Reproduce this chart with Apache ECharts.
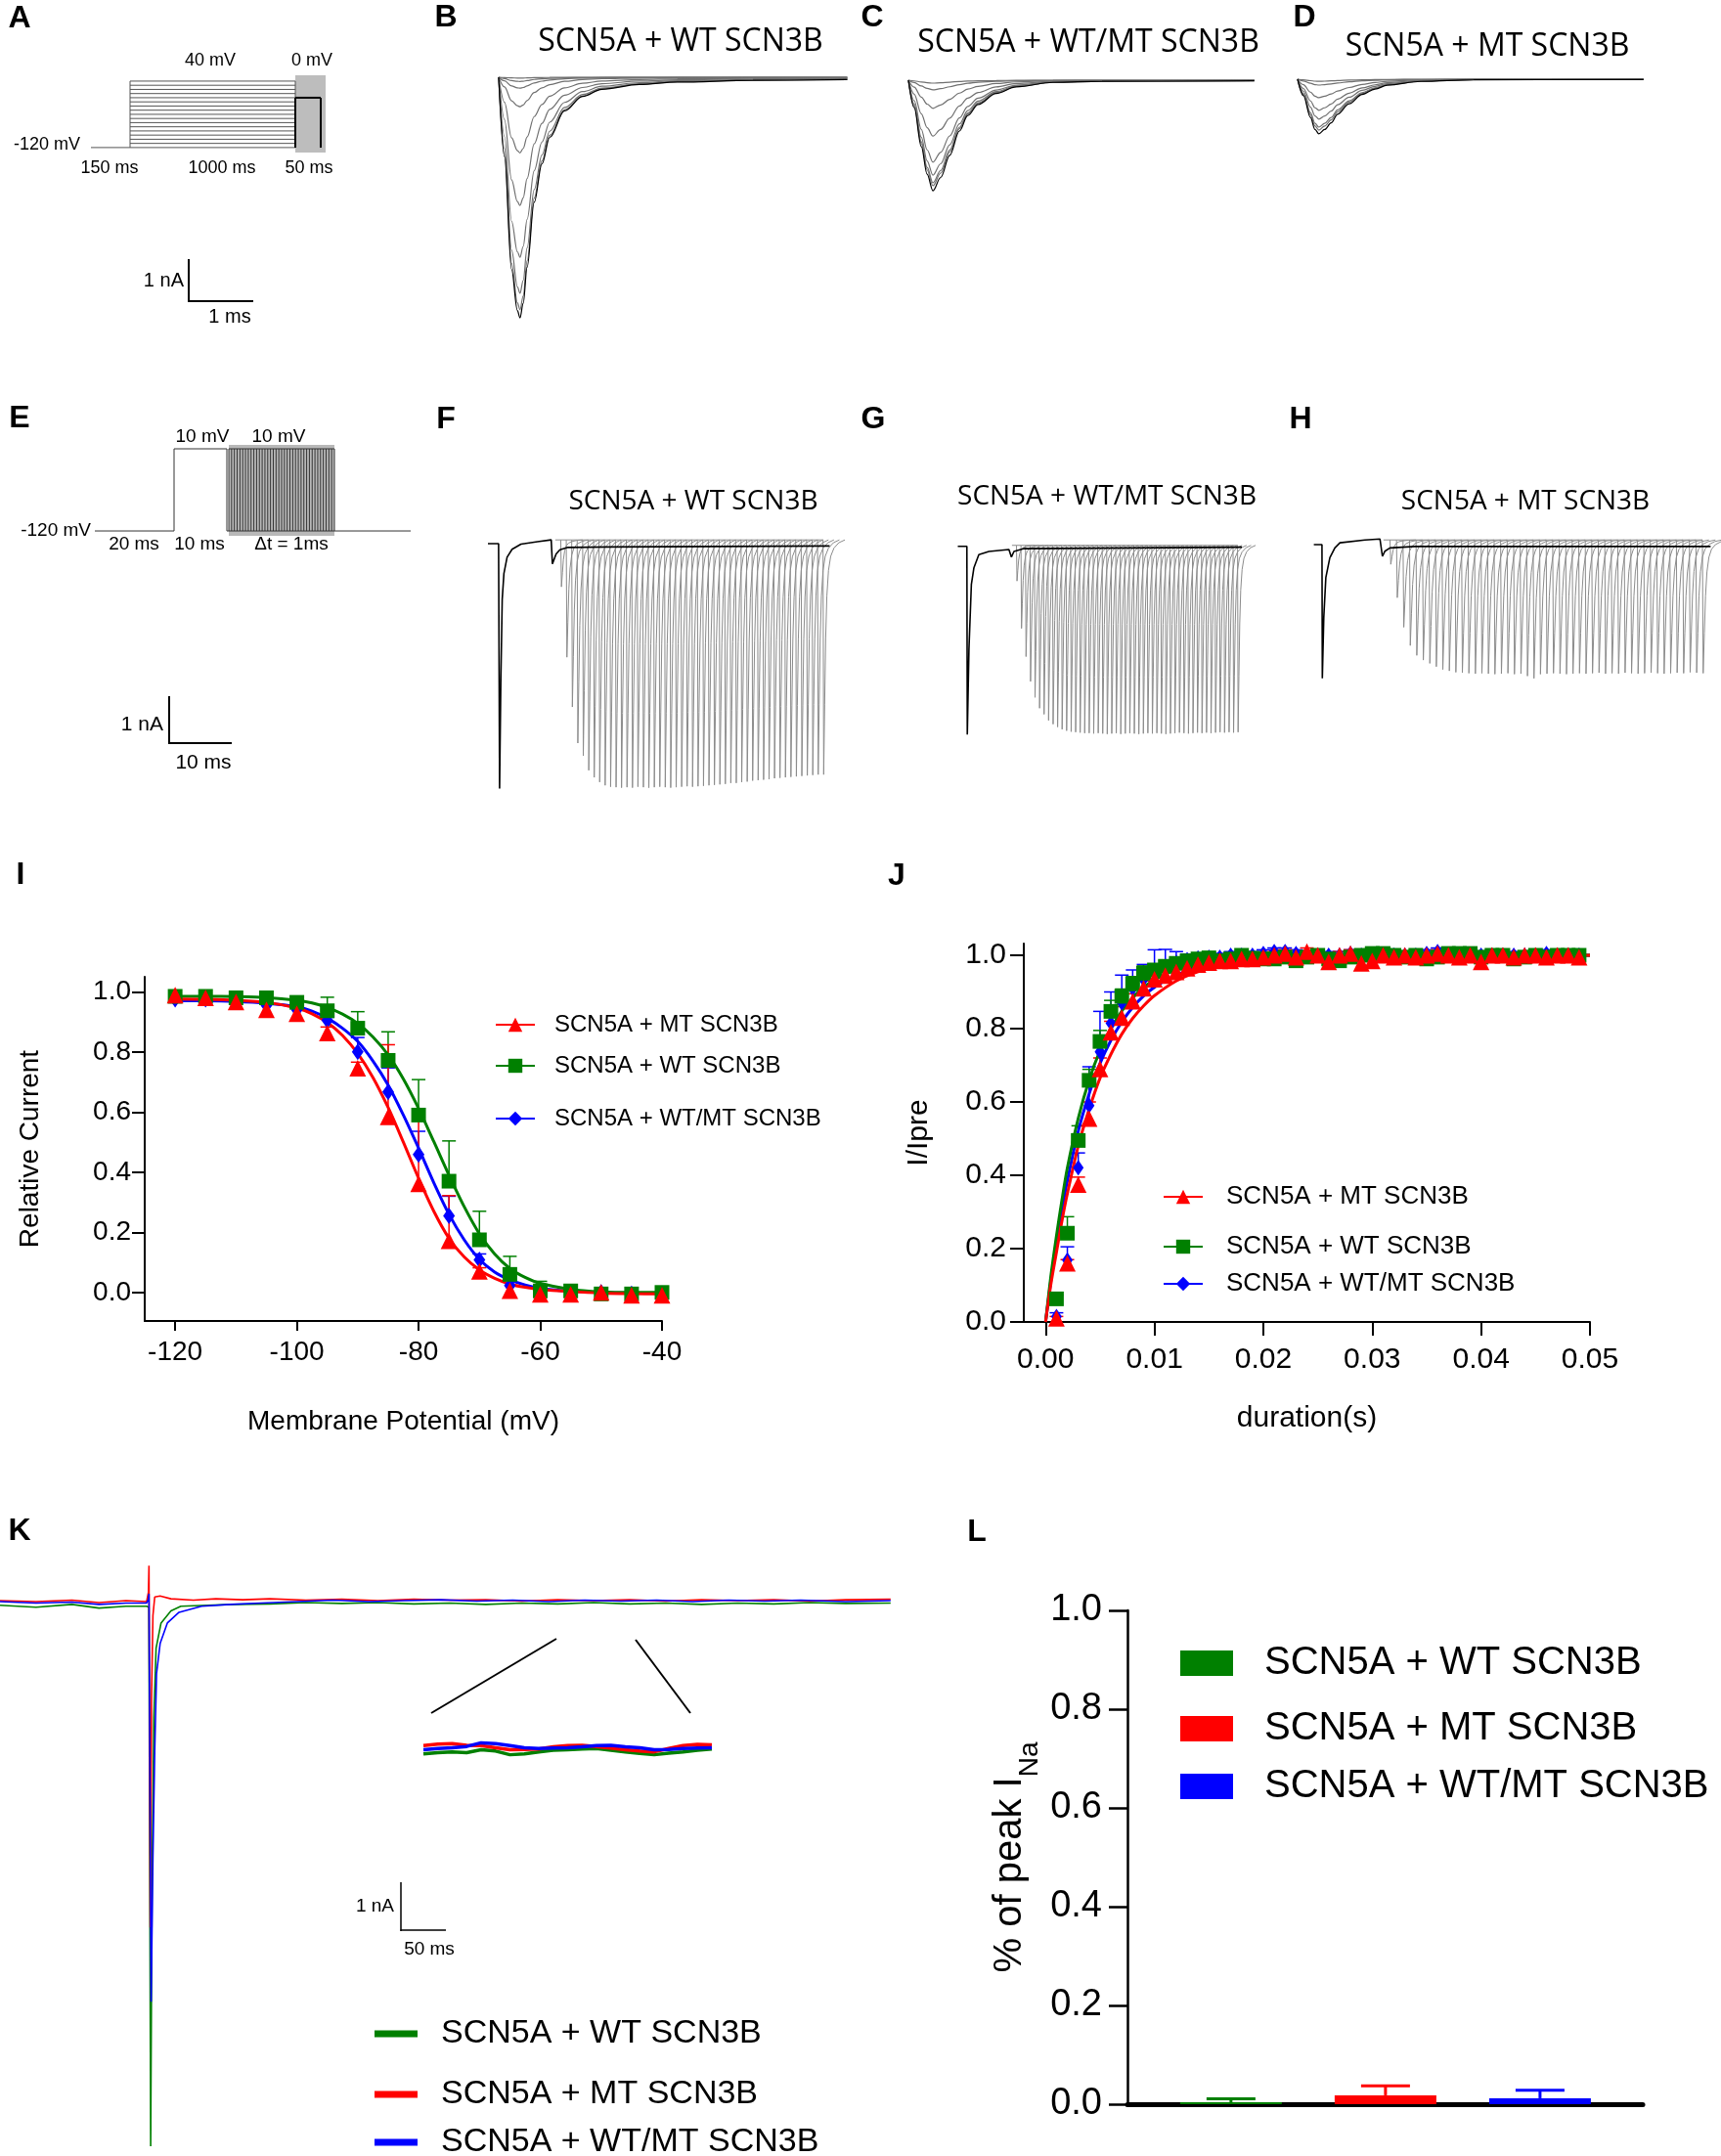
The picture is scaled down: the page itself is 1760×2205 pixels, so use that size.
<!DOCTYPE html>
<html>
<head>
<meta charset="utf-8">
<script src="https://cdn.jsdelivr.net/npm/echarts@6/dist/echarts.min.js"></script>
<style>
html, body { margin: 0; padding: 0; background: #fff; }
#fig { width: 1760px; height: 2205px; }
</style>
</head>
<body>
<div id="fig"></div>
<script>
// ---------------- labels / colours ----------------
var labWT = 'SCN5A + WT SCN3B';
var labMT = 'SCN5A + MT SCN3B';
var labWM = 'SCN5A + WT/MT SCN3B';
var cWT = '#008000', cMT = '#ff0000', cWM = '#0000ff';
var FONT = '"Liberation Sans", Arial, sans-serif';
var TFONT = '"Open Sans", sans-serif';

// ---------------- A / E : voltage protocols (schematic units) ----------------
var protoALevels = [-120, -110, -100, -90, -80, -70, -60, -50, -40, -30, -20, -10, 0, 10, 20, 30, 40];
var protoATimes = [0, 40, 209, 235, 240];   // hold, step on, test on, test off, box end
var protoATest = 0;
var protoETimes = [0, 81, 135, 137, 245, 323]; // hold, P1 on, P1 off, train on, train off, end
var protoELevels = [-120, 10];
var protoETrain = 38;

// ---------------- B-D : sweeps (ms, fraction of peak) and peaks (nA) ----------------
var bShape = [[0,0],[0.09,0.33],[0.2,0.8],[0.29,0.97],[0.33,1],[0.38,0.94],[0.44,0.79],[0.55,0.52],[0.67,0.36],[0.79,0.25],[1.02,0.14],[1.3,0.08],[1.6,0.05],[2.18,0.03],[2.77,0.02],[3.94,0.013],[5.4,0.01]];
var bPeaks = [0.02, 0.1, 0.26, 0.7, 1.8, 3.05, 4.28, 5.14, 5.53, 5.72];
var cShape = [[0,0],[0.09,0.25],[0.2,0.6],[0.29,0.85],[0.38,1],[0.5,0.88],[0.64,0.68],[0.79,0.46],[0.92,0.32],[1.08,0.22],[1.36,0.12],[1.67,0.06],[2.24,0.02],[3.0,0.01],[5.36,0.005]];
var cPeaks = [0.07, 0.23, 0.67, 1.33, 1.95, 2.26, 2.44, 2.51, 2.63];
var dShape = [[0,0],[0.09,0.3],[0.2,0.7],[0.27,0.92],[0.33,1],[0.42,0.92],[0.52,0.8],[0.62,0.64],[0.8,0.45],[1.0,0.28],[1.2,0.18],[1.39,0.11],[1.91,0.04],[2.73,0.01],[5.36,0.005]];
var dPeaks = [0.05, 0.14, 0.44, 0.74, 0.95, 1.14, 1.21, 1.3];

// ---------------- F-H : two-pulse recovery (ms, nA) ----------------
var fBlack = [[0,0],[1.7,0],[1.86,-5.22],[2.06,-2.93],[2.28,-1.19],[2.55,-0.64],[3.06,-0.29],[3.86,-0.12],[5.28,-0.01],[7.91,0.04],[10.11,0.08],[10.3,-0.43],[10.9,-0.22],[11.5,-0.13],[12.8,-0.08],[19.6,-0.07],[54.6,-0.05]];
var gBlack = [[0,0],[1.0,0],[1.45,0],[1.52,-4.01],[1.78,-2.2],[2.17,-0.81],[2.57,-0.46],[3.36,-0.18],[4.97,-0.11],[8.17,-0.07],[8.57,-0.23],[8.97,-0.11],[10.58,-0.05],[45.4,-0.02]];
var hBlack = [[0,0],[0.8,0],[1.3,0],[1.36,-2.85],[1.59,-1.55],[1.92,-0.7],[2.56,-0.28],[3.36,-0.07],[4.17,0.04],[8.17,0.1],[10.57,0.12],[10.96,-0.25],[11.36,-0.14],[12.16,-0.07],[16.17,-0.04],[63.4,-0.04]];
var fPeaks = [0.92,2.42,3.48,4.25,4.52,4.83,4.98,5.08,5.15,5.18,5.19,5.2,5.19,5.2,5.18,5.19,5.2,5.19,5.18,5.19,5.2,5.19,5.18,5.17,5.18,5.17,5.16,5.15,5.14,5.13,5.12,5.1,5.1,5.08,5.07,5.05,5.04,5.03,5.02,5.0,4.99,4.98,4.97,4.96,4.95,4.94,4.93,4.92,4.92];
var gPeaks = [0.74,1.75,2.35,2.88,3.22,3.45,3.58,3.71,3.79,3.85,3.9,3.93,3.95,3.96,3.97,3.98,3.98,3.99,3.98,3.99,4.0,3.99,3.98,4.0,3.99,3.98,3.99,4.0,3.99,3.98,3.99,3.98,3.99,4.0,3.99,3.98,3.97,3.98,3.99,3.98,3.97,3.98,3.97,3.98,3.97,3.96,3.97,3.96,3.97,3.96];
var hPeaks = [0.42,1.13,1.76,2.15,2.36,2.46,2.53,2.6,2.66,2.69,2.72,2.73,2.74,2.75,2.74,2.75,2.76,2.75,2.74,2.76,2.75,2.8,2.85,2.76,2.75,2.74,2.75,2.76,2.75,2.74,2.75,2.74,2.73,2.75,2.74,2.75,2.73,2.74,2.75,2.74,2.73,2.74,2.75,2.74,2.73,2.74,2.72,2.73,2.74];
var fTest = {start: 11.64, step: 0.873, base: 0.08};
var gTest = {start: 9.375, step: 0.721, base: 0.02};
var hTest = {start: 12.17, step: 1.04, base: 0.1};
// spike shape (time in units of one step, fraction of peak)
var spikeShape = [[0,0],[0.12,1],[0.3,0.7],[0.48,0.42],[0.7,0.24],[1.0,0.13],[1.4,0.07],[2.0,0.035],[2.9,0.012],[4.0,0]];

// ---------------- I : steady-state inactivation ----------------
var iX = [-120,-115,-110,-105,-100,-95,-90,-85,-80,-75,-70,-65,-60,-55,-50,-45,-40];
var iMT = [0.989,0.98,0.966,0.94,0.927,0.863,0.746,0.584,0.361,0.172,0.07,0.006,-0.006,-0.006,0.0,-0.01,-0.01];
var iWT = [0.985,0.985,0.98,0.98,0.965,0.937,0.879,0.772,0.59,0.37,0.175,0.06,0.005,0.005,-0.005,-0.005,0.0];
var iWM = [0.975,0.975,0.97,0.955,0.94,0.905,0.80,0.667,0.459,0.255,0.108,0.023,0.0,0.0,0.0,-0.005,-0.005];
var iMTerr = [0,0,0,0,0,0.02,0.02,0.24,0.22,0.15,0.012,0,0,0,0,0,0];
var iWTerr = [0,0,0,0,0.02,0.045,0.055,0.095,0.118,0.134,0.095,0.06,0.032,0,0,0,0];
var iWMerr = [0,0,0,0,0,0.01,0.048,0.08,0.077,0.065,0.02,0,0,0,0,0,0];
// fitted curves, read every 2.5 mV
var iFitX = [-120,-115,-110,-105,-100,-97.5,-95,-92.5,-90,-87.5,-85,-82.5,-80,-77.5,-75,-72.5,-70,-67.5,-65,-62.5,-60,-55,-50,-45,-40];
var iMTfit = [0.976,0.975,0.972,0.965,0.946,0.927,0.898,0.855,0.795,0.715,0.615,0.5,0.38,0.27,0.18,0.118,0.075,0.047,0.028,0.017,0.01,0.003,-0.002,-0.004,-0.005];
var iWTfit = [0.985,0.985,0.984,0.981,0.972,0.963,0.948,0.926,0.895,0.85,0.79,0.71,0.612,0.502,0.39,0.285,0.195,0.128,0.08,0.05,0.03,0.01,0.002,0.0,0.0];
var iWMfit = [0.97,0.97,0.968,0.962,0.95,0.936,0.912,0.879,0.835,0.77,0.69,0.59,0.48,0.365,0.26,0.175,0.11,0.068,0.042,0.025,0.014,0.004,0.0,-0.002,-0.003];
var iTicksX = [-120,-100,-80,-60,-40];
var iTicksY = [0,0.2,0.4,0.6,0.8,1.0];

// ---------------- J : recovery from inactivation ----------------
var jStep = 0.001;
var jMT = [0.01,0.16,0.375,0.555,0.69,0.79,0.83,0.875,0.91,0.935,0.945,0.955,0.965,0.975,0.98,0.985,0.985,0.99,0.99,0.995,1.0,1.005,0.995,1.01,1.0,0.982,1.0,1.005,0.978,0.985,1.0,0.995,1.0,0.995,1.0,1.005,1.0,0.995,1.0,0.982,1.0,1.0,0.995,1.0,1.0,0.995,1.0,1.0,0.995];
var jWT = [0.063,0.242,0.495,0.659,0.765,0.847,0.888,0.922,0.951,0.96,0.97,0.978,0.985,0.99,0.993,0.985,0.99,1.0,0.992,0.99,0.99,0.995,0.985,0.995,1.0,0.99,0.985,0.995,1.0,1.005,1.005,1.0,0.995,1.0,0.99,0.995,1.005,1.005,1.005,0.995,1.0,1.0,0.99,0.995,1.0,0.995,1.0,1.0,1.0];
var jWM = [0.015,0.169,0.421,0.59,0.737,0.815,0.87,0.91,0.935,0.955,0.97,0.98,0.988,0.993,0.995,0.995,1.0,1.0,1.0,1.005,1.01,1.01,1.005,1.0,1.0,1.0,1.0,1.005,1.0,1.0,1.0,1.0,1.0,1.0,1.005,1.01,1.0,1.0,1.0,1.0,1.0,1.0,1.0,1.0,1.0,1.005,1.0,1.0,1.0];
var jMTerr = [0.005,0.01,0.02,0.045,0.03,0.03,0.03,0.02,0.02,0.015,0.01,0.01,0.01,0.01,0.01,0.01,0.01,0.01,0.01,0.01,0.01,0.01,0.01,0.01,0.01,0.01,0.01,0.01,0.01,0.01,0.01,0.01,0.01,0.01,0.01,0.01,0.01,0.01,0.01,0.01,0.01,0.01,0.01,0.01,0.01,0.01,0.01,0.01,0.01];
var jWTerr = [0.01,0.045,0.04,0.03,0.03,0.03,0.02,0.02,0.02,0.015,0.015,0.012,0.01,0.01,0.01,0.01,0.01,0.01,0.01,0.01,0.01,0.01,0.01,0.01,0.01,0.01,0.01,0.01,0.01,0.01,0.01,0.01,0.01,0.01,0.01,0.01,0.01,0.01,0.01,0.01,0.01,0.01,0.01,0.01,0.01,0.01,0.01,0.01,0.01];
var jWMerr = [0.01,0.036,0.04,0.106,0.11,0.085,0.076,0.05,0.04,0.06,0.046,0.03,0.015,0.012,0.012,0.01,0.01,0.01,0.01,0.01,0.01,0.01,0.01,0.01,0.01,0.01,0.01,0.01,0.01,0.01,0.01,0.01,0.01,0.01,0.01,0.01,0.01,0.01,0.01,0.01,0.01,0.01,0.01,0.01,0.01,0.01,0.01,0.01,0.01];
var jFitX = [0,0.0005,0.001,0.0015,0.002,0.003,0.004,0.005,0.006,0.007,0.008,0.009,0.01,0.012,0.014,0.016,0.018,0.02,0.025,0.03,0.04,0.05];
var jMTfit = [0,0.105,0.19,0.275,0.35,0.48,0.58,0.665,0.73,0.785,0.828,0.862,0.89,0.93,0.955,0.97,0.98,0.987,0.995,0.998,1.0,1.0];
var jWTfit = [0,0.128,0.235,0.332,0.42,0.555,0.66,0.74,0.8,0.848,0.884,0.912,0.933,0.961,0.977,0.987,0.992,0.995,0.999,1.0,1.0,1.0];
var jWMfit = [0,0.116,0.215,0.305,0.385,0.52,0.622,0.705,0.768,0.818,0.858,0.889,0.913,0.946,0.967,0.98,0.988,0.992,0.998,1.0,1.0,1.0];
var jTicksX = [0,0.01,0.02,0.03,0.04,0.05];
var jTicksY = [0,0.2,0.4,0.6,0.8,1.0];

// ---------------- K : late current traces (ms, nA) ----------------
var kWT = [[0,-0.08],[40,-0.12],[80,-0.06],[110,-0.14],[140,-0.1],[163,-0.1],[165.5,-0.12],[167.5,-11.7],[169,-6],[171,-2.5],[173.5,-1.0],[179,-0.46],[190,-0.2],[201,-0.1],[230,-0.08],[260,-0.06],[300,-0.05],[340,-0.02],[380,-0.04],[420,-0.02],[460,-0.05],[500,-0.03],[540,-0.06],[580,-0.03],[620,-0.05],[660,-0.02],[700,-0.05],[740,-0.03],[780,-0.06],[820,-0.03],[860,-0.05],[900,-0.02],[940,-0.04],[990,-0.03]];
var kMT = [[0,0.02],[40,0.0],[80,0.03],[110,-0.02],[140,0.02],[163,0.0],[165,0.2],[165.6,0.77],[167,-7.0],[168.5,-2.0],[170,-0.3],[172,0.1],[178,0.12],[190,0.06],[215,0.03],[240,0.06],[270,0.04],[300,0.06],[340,0.03],[380,0.05],[420,0.02],[460,0.05],[500,0.03],[540,0.04],[580,0.01],[620,0.04],[660,0.02],[700,0.04],[740,0.01],[780,0.04],[820,0.02],[860,0.04],[900,0.01],[940,0.04],[990,0.05]];
var kWM = [[0,0.0],[40,-0.03],[80,-0.01],[110,-0.06],[140,-0.03],[163,-0.03],[165,0.05],[165.6,0.17],[168,-8.6],[170,-5.5],[172,-3.2],[174,-1.55],[178,-0.9],[186,-0.46],[199,-0.23],[224,-0.1],[256,-0.06],[290,-0.03],[330,0.0],[370,0.03],[410,0.0],[450,0.02],[490,0.04],[530,0.01],[570,0.03],[610,0.0],[650,0.03],[690,0.01],[730,0.03],[770,0.0],[810,0.03],[850,0.01],[890,0.03],[940,0.0],[990,0.02]];
var kInsetWT = [-0.15,-0.12,-0.1,-0.12,-0.05,-0.08,-0.17,-0.15,-0.1,-0.06,-0.05,-0.03,-0.02,-0.06,-0.1,-0.14,-0.17,-0.13,-0.1,-0.06,-0.03];
var kInsetMT = [0.05,0.09,0.1,0.06,0.05,0.0,-0.05,-0.04,-0.03,0.02,0.05,0.06,0.03,-0.01,-0.05,-0.08,-0.1,-0.02,0.05,0.08,0.07];
var kInsetWM = [-0.05,-0.02,0.0,0.03,0.12,0.1,0.05,0.0,-0.02,-0.01,0.0,0.02,0.05,0.06,0.02,0.0,-0.05,-0.04,-0.02,-0.01,0.0];

// ---------------- L : late current fraction ----------------
var lVals = [0.004, 0.018, 0.012];
var lErr = [0.007, 0.019, 0.016];
var lTicksY = [0,0.2,0.4,0.6,0.8,1.0];

// =====================================================================
var grids = [], xAxes = [], yAxes = [], series = [], legends = [];

function addHidden(g, xr, yr) {
  g.outerBoundsMode = 'none';
  grids.push(g);
  var gi = grids.length - 1;
  xAxes.push({type: 'value', gridIndex: gi, min: xr[0], max: xr[1], show: false});
  yAxes.push({type: 'value', gridIndex: gi, min: yr[0], max: yr[1], show: false});
  return gi;
}
// trace grid: x0 / base are where t=0 and I=0 sit on the page
function traceGrid(x0, base, tMax, yMin, yMax, pxMs, pxNa) {
  return addHidden({left: x0, top: base - yMax * pxNa, width: tMax * pxMs, height: (yMax - yMin) * pxNa},
    [0, tMax], [yMin, yMax]);
}
function segs(gi, rows, color, width, z) {
  series.push({type: 'custom', xAxisIndex: gi, yAxisIndex: gi, z: z || 3, silent: true, data: rows,
    renderItem: function (p, api) {
      var a = api.coord([api.value(0), api.value(1)]), b = api.coord([api.value(2), api.value(3)]);
      return {type: 'line', shape: {x1: a[0], y1: a[1], x2: b[0], y2: b[1]}, style: {stroke: color, lineWidth: width}};
    }});
}
function box(gi, x0, x1, y0, y1, color) {
  series.push({type: 'custom', xAxisIndex: gi, yAxisIndex: gi, z: 1, silent: true, data: [[x0, y0, x1, y1]],
    renderItem: function (p, api) {
      var a = api.coord([api.value(0), api.value(3)]), b = api.coord([api.value(2), api.value(1)]);
      return {type: 'rect', shape: {x: a[0], y: a[1], width: b[0] - a[0], height: b[1] - a[1]}, style: {fill: color}};
    }});
}
function sweeps(gi, shape, peaks) {
  peaks.forEach(function (pk, i) {
    series.push({type: 'line', xAxisIndex: gi, yAxisIndex: gi, silent: true, symbol: 'none', smooth: 0.35,
      smoothMonotone: 'x', z: 2 + (i === peaks.length - 1 ? 1 : 0),
      data: shape.map(function (p) { return [p[0], -pk * p[1]]; }),
      lineStyle: {color: i === peaks.length - 1 ? '#000' : '#707070', width: 1.2}});
  });
}
function spikes(gi, test, peaks, black) {
  var rows = peaks.map(function (a, k) { return [test.start + k * test.step, a]; });
  series.push({type: 'custom', xAxisIndex: gi, yAxisIndex: gi, z: 2, silent: true, data: rows,
    renderItem: function (p, api) {
      var t = api.value(0), a = api.value(1);
      var pts = [api.coord([t - test.step, test.base])];
      spikeShape.forEach(function (s) {
        pts.push(api.coord([t + s[0] * test.step, test.base + (-a - test.base) * s[1]]));
      });
      return {type: 'polyline', shape: {points: pts}, style: {stroke: '#8c8c8c', lineWidth: 1, fill: null}};
    }});
  series.push({type: 'line', xAxisIndex: gi, yAxisIndex: gi, silent: true, symbol: 'none', z: 4,
    data: black, lineStyle: {color: '#000', width: 1.6}});
}
function errBars(gi, xs, ys, es, color, cap, lw, name) {
  var rows = [];
  xs.forEach(function (x, i) { if (es[i] > 0) rows.push([x, ys[i], es[i]]); });
  series.push({type: 'custom', name: name, xAxisIndex: gi, yAxisIndex: gi, z: 3, silent: true, data: rows,
    renderItem: function (p, api) {
      var a = api.coord([api.value(0), api.value(1)]), b = api.coord([api.value(0), api.value(1) + api.value(2)]);
      return {type: 'group', children: [
        {type: 'line', shape: {x1: a[0], y1: a[1], x2: b[0], y2: b[1]}, style: {stroke: color, lineWidth: lw}},
        {type: 'line', shape: {x1: b[0] - cap, y1: b[1], x2: b[0] + cap, y2: b[1]}, style: {stroke: color, lineWidth: lw}}
      ]};
    }});
}
function zip(xs, ys) { return xs.map(function (x, i) { return [x, ys[i]]; }); }
var fmt = function (n) { return n.split('|')[1]; };
function leg(name, left, cy, fs, iw, ih, icon, gap) {
  var lh = fs + 6, h = Math.max(ih, lh);
  var o = {data: [name], left: left, top: cy - h / 2, orient: 'horizontal', padding: 0, itemGap: 0,
    itemWidth: iw, itemHeight: ih, selectedMode: false, formatter: fmt,
    textStyle: {fontSize: fs, lineHeight: lh, fontFamily: FONT, color: '#000', padding: [0, 0, 0, gap - 5]}};
  if (icon) o.icon = icon;
  legends.push(o);
}

// ---------- A protocol ----------
var gA = addHidden({left: 93, top: 77, width: 240, height: 79}, [0, 240], [-132, 54]);
box(gA, protoATimes[2], protoATimes[4], -132, 54, '#bdbdbd');
var rowsA = [[protoATimes[0], -120, protoATimes[1], -120],
  [protoATimes[1], protoALevels[0], protoATimes[1], protoALevels[protoALevels.length - 1]],
  [protoATimes[2], protoALevels[0], protoATimes[2], protoALevels[protoALevels.length - 1]]];
protoALevels.forEach(function (v) { rowsA.push([protoATimes[1], v, protoATimes[2], v]); });
segs(gA, rowsA, '#555', 1);
segs(gA, [[protoATimes[2], -120, protoATimes[2], protoATest], [protoATimes[2], protoATest, protoATimes[3], protoATest],
  [protoATimes[3], protoATest, protoATimes[3], -120]], '#000', 2, 4);

// ---------- B, C, D ----------
var gB = traceGrid(510, 79, 5.4, -5.9, 0.1, 66, 43);
var gC = traceGrid(929, 82, 5.36, -2.8, 0.1, 66, 43);
var gD = traceGrid(1327, 81, 5.36, -1.4, 0.1, 66, 43);
sweeps(gB, bShape, bPeaks);
sweeps(gC, cShape, cPeaks);
sweeps(gD, dShape, dPeaks);

// ---------- E protocol ----------
var gE = addHidden({left: 97, top: 455, width: 323, height: 93}, [0, 323], [-127.7, 16.2]);
var eLo = protoELevels[0], eHi = protoELevels[1], T = protoETimes;
box(gE, T[3], T[4], -127.7, 16.2, '#b8b8b8');
var rowsE = [[T[0], eLo, T[1], eLo], [T[1], eLo, T[1], eHi], [T[1], eHi, T[2], eHi], [T[2], eHi, T[2], eLo],
  [T[2], eLo, T[5], eLo], [T[3], eHi, T[4], eHi]];
for (var k = 0; k <= protoETrain; k++) {
  var tx = T[3] + k * (T[4] - T[3]) / protoETrain;
  rowsE.push([tx, eLo, tx, eHi]);
}
segs(gE, rowsE, '#333', 1);

// ---------- F, G, H ----------
var gF = traceGrid(499, 556, 56, -5.4, 0.3, 6.4, 48);
var gG = traceGrid(979.5, 558.7, 46, -4.2, 0.3, 6.4, 48);
var gH = traceGrid(1343.6, 557, 64, -3.0, 0.3, 6.4, 48);
spikes(gF, fTest, fPeaks, fBlack);
spikes(gG, gTest, gPeaks, gBlack);
spikes(gH, hTest, hPeaks, hBlack);

// ---------- I ----------
function realAxis(gi, which, o) {
  var base = {type: 'value', gridIndex: gi, splitLine: {show: false},
    axisLine: {show: true, onZero: false, lineStyle: {color: '#000', width: 2}},
    axisTick: {show: true, inside: false, length: o.tick, lineStyle: {color: '#000', width: 2}, customValues: o.ticks},
    axisLabel: {show: true, customValues: o.ticks, color: '#000', fontSize: o.fs, fontFamily: FONT, margin: o.margin,
      formatter: o.formatter},
    min: o.min, max: o.max,
    name: o.name, nameLocation: 'middle', nameGap: o.nameGap,
    nameTextStyle: o.nameStyle || {color: '#000', fontSize: o.fs, fontFamily: FONT}};
  (which === 'x' ? xAxes : yAxes).push(base);
}
grids.push({left: 148, top: 999, width: 529, height: 352, outerBoundsMode: 'none'});
var gI = grids.length - 1;
realAxis(gI, 'x', {min: -125, max: -40, ticks: iTicksX, tick: 10, fs: 28, margin: 18, name: 'Membrane Potential (mV)', nameGap: 89});
realAxis(gI, 'y', {min: -0.095, max: 1.05, ticks: iTicksY, tick: 13, fs: 28, margin: 14, name: 'Relative Current', nameGap: 103,
  formatter: function (v) { return v.toFixed(1); }});

function curveSet(gi, xs, pts, errs, fitX, fit, color, sym, size, nm) {
  series.push({type: 'line', name: nm, xAxisIndex: gi, yAxisIndex: gi, data: zip(fitX, fit), symbol: sym, symbolSize: size,
    showSymbol: false, smooth: 0.3, z: 3, silent: true,
    lineStyle: {color: color, width: 3}, itemStyle: {color: color}});
  errBars(gi, xs, pts, errs, color, 7, 1.5);
  series.push({type: 'scatter', name: nm + ' pts', xAxisIndex: gi, yAxisIndex: gi, data: zip(xs, pts), symbol: sym,
    symbolSize: size, z: 4, silent: true, itemStyle: {color: color, opacity: 1}});
}
curveSet(gI, iX, iWM, iWMerr, iFitX, iWMfit, cWM, 'diamond', [12, 17], 'I|' + labWM);
curveSet(gI, iX, iWT, iWTerr, iFitX, iWTfit, cWT, 'rect', 15, 'I|' + labWT);
curveSet(gI, iX, iMT, iMTerr, iFitX, iMTfit, cMT, 'triangle', 17, 'I|' + labMT);
leg('I|' + labMT, 506, 1048, 24, 40, 18, null, 20);
leg('I|' + labWT, 506, 1090, 24, 40, 18, null, 20);
leg('I|' + labWM, 506, 1144, 24, 40, 18, null, 20);

// ---------- J ----------
grids.push({left: 1047, top: 965, width: 579, height: 387, outerBoundsMode: 'none'});
var gJ = grids.length - 1;
realAxis(gJ, 'x', {min: -0.002, max: 0.05, ticks: jTicksX, tick: 14, fs: 30, margin: 24, name: 'duration(s)', nameGap: 84,
  formatter: function (v) { return v.toFixed(2); }});
realAxis(gJ, 'y', {min: 0, max: 1.032, ticks: jTicksY, tick: 14, fs: 30, margin: 18, name: 'I/Ipre', nameGap: 92,
  formatter: function (v) { return v.toFixed(1); }});
var jX = jMT.map(function (v, i) { return +((i + 1) * jStep).toFixed(3); });
curveSet(gJ, jX, jWM, jWMerr, jFitX, jWMfit, cWM, 'diamond', [11, 16], 'J|' + labWM);
curveSet(gJ, jX, jWT, jWTerr, jFitX, jWTfit, cWT, 'rect', 15, 'J|' + labWT);
curveSet(gJ, jX, jMT, jMTerr, jFitX, jMTfit, cMT, 'triangle', 17, 'J|' + labMT);
leg('J|' + labMT, 1189, 1224, 26, 40, 18, null, 24);
leg('J|' + labWT, 1189, 1275, 26, 40, 18, null, 24);
leg('J|' + labWM, 1189, 1313, 26, 40, 18, null, 24);

// ---------- K ----------
var gK = traceGrid(0, 1638, 990, -12, 0.9, 0.92, 47.6);
[[kWT, cWT, labWT], [kMT, cMT, labMT], [kWM, cWM, labWM]].forEach(function (s, i) {
  series.push({type: 'line', name: 'K|' + s[2], xAxisIndex: gK, yAxisIndex: gK, data: s[0], symbol: 'none',
    z: 2 + i, silent: true, lineStyle: {color: s[1], width: 1.6}, itemStyle: {color: s[1]}});
});
var gKi = addHidden({left: 433, top: 1779, width: 295, height: 19}, [0, 20], [-0.25, 0.2]);
var kInsetX = kInsetWT.map(function (v, i) { return i; });
[[kInsetWT, cWT], [kInsetMT, cMT], [kInsetWM, cWM]].forEach(function (s, i) {
  series.push({type: 'line', xAxisIndex: gKi, yAxisIndex: gKi, data: zip(kInsetX, s[0]), symbol: 'none',
    z: 2 + i, silent: true, lineStyle: {color: s[1], width: 3.5}});
});
leg('K|' + labWT, 383, 2080, 34, 44, 7, 'rect', 24);
leg('K|' + labMT, 383, 2142, 34, 44, 7, 'rect', 24);
leg('K|' + labWM, 383, 2191, 34, 44, 7, 'rect', 24);

// ---------- L ----------
grids.push({left: 1153, top: 1647, width: 527, height: 505, outerBoundsMode: 'none'});
var gL = grids.length - 1;
xAxes.push({type: 'value', gridIndex: gL, min: -0.67, max: 2.665, splitLine: {show: false},
  axisLine: {show: true, onZero: false, lineStyle: {color: '#000', width: 5}}, axisTick: {show: false}, axisLabel: {show: false}});
realAxis(gL, 'y', {min: 0, max: 1, ticks: lTicksY, tick: 19, fs: 38, margin: 26, nameGap: 96,
  name: '% of peak I{s|Na}',
  nameStyle: {color: '#000', fontSize: 40, fontFamily: FONT, lineHeight: 48,
    rich: {s: {fontSize: 28, fontFamily: FONT, color: '#000', verticalAlign: 'bottom', lineHeight: 48, padding: [0, 0, -10, 0]}}},
  formatter: function (v) { return v.toFixed(1); }});
yAxes[yAxes.length - 1].axisLine.lineStyle.width = 2.5;
yAxes[yAxes.length - 1].axisTick.lineStyle.width = 2.5;
[[labWT, cWT], [labMT, cMT], [labWM, cWM]].forEach(function (s, i) {
  series.push({type: 'bar', name: 'L|' + s[0], xAxisIndex: gL, yAxisIndex: gL, data: [[i, lVals[i]]], barWidth: 104,
    barGap: '-100%', z: 2, silent: true, itemStyle: {color: s[1]}});
  errBars(gL, [i], [lVals[i]], [lErr[i]], s[1], 25, 3);
});
leg('L|' + labWT, 1207, 1701, 40, 54, 26, 'rect', 32);
leg('L|' + labMT, 1207, 1768, 40, 54, 26, 'rect', 32);
leg('L|' + labWM, 1207, 1827, 40, 54, 26, 'rect', 32);

// =====================================================================
// annotations: panel letters, titles, protocol labels, scale bars
var gfx = [];
function txt(x, y, s, size, o) {
  o = o || {};
  gfx.push({type: 'text', x: x, y: y, silent: true, style: {text: s, fontSize: size, fontFamily: o.font || FONT,
    fontWeight: o.bold ? 'bold' : 'normal', fill: '#000', align: o.align || 'center', verticalAlign: 'middle'}});
}
function ln(x1, y1, x2, y2, w) {
  gfx.push({type: 'line', silent: true, shape: {x1: x1, y1: y1, x2: x2, y2: y2}, style: {stroke: '#000', lineWidth: w || 2}});
}
[['A', 20, 19], ['B', 456, 18], ['C', 892, 18], ['D', 1334, 18], ['E', 20, 428], ['F', 456, 429], ['G', 893, 429],
 ['H', 1330, 429], ['I', 21, 895], ['J', 917, 896], ['K', 20, 1566], ['L', 999, 1567]].forEach(function (l) {
  txt(l[1], l[2], l[0], 32, {bold: true});
});
txt(696, 43, labWT, 32, {font: TFONT});
txt(1113, 44, labWM, 32, {font: TFONT});
txt(1521, 48, labMT, 32, {font: TFONT});
txt(709, 513, labWT, 28, {font: TFONT});
txt(1132, 508, labWM, 28, {font: TFONT});
txt(1560, 513, labMT, 28, {font: TFONT});
// A labels
txt(215, 62, '40 mV', 18); txt(319, 62, '0 mV', 18);
txt(82, 148, '-120 mV', 18, {align: 'right'});
txt(112, 172, '150 ms', 18); txt(227, 172, '1000 ms', 18); txt(316, 172, '50 ms', 18);
ln(193, 265, 193, 309); ln(192, 308, 259, 308);
txt(188, 287, '1 nA', 20, {align: 'right'}); txt(235, 324, '1 ms', 20);
// E labels
txt(207, 447, '10 mV', 19); txt(285, 447, '10 mV', 19);
txt(93, 543, '-120 mV', 19, {align: 'right'});
txt(137, 557, '20 ms', 19); txt(204, 557, '10 ms', 19); txt(298, 557, 'Δt = 1ms', 19);
ln(173, 712, 173, 761); ln(172, 760, 237, 760);
txt(167, 741, '1 nA', 21, {align: 'right'}); txt(208, 780, '10 ms', 21);
// K annotations
ln(569, 1676, 441, 1752); ln(650, 1677, 706, 1752);
ln(410, 1925, 410, 1975, 1.5); ln(409.5, 1974, 456, 1974, 1.5);
txt(403, 1950, '1 nA', 19, {align: 'right'}); txt(439, 1994, '50 ms', 19);

var chart = echarts.init(document.getElementById('fig'), null, {renderer: 'canvas', width: 1760, height: 2205});
chart.setOption({
  animation: false,
  backgroundColor: '#fff',
  grid: grids,
  xAxis: xAxes,
  yAxis: yAxes,
  legend: legends,
  tooltip: {show: false},
  series: series,
  graphic: {elements: gfx}
});
</script>
</body>
</html>
